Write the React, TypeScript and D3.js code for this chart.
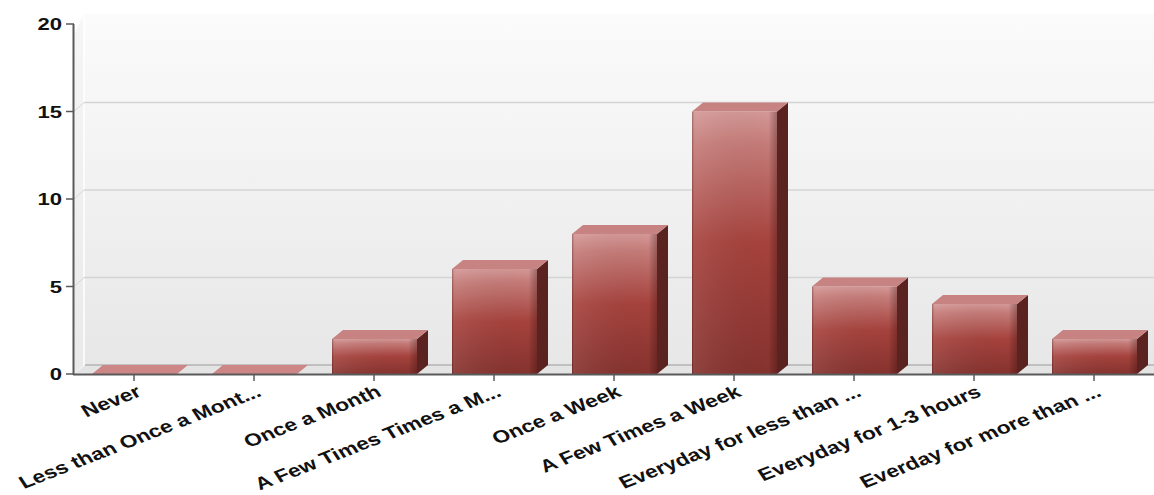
import React from "react";
import * as d3 from "d3";

const categories = [
  "Never",
  "Less than Once a Mont...",
  "Once a Month",
  "A Few Times Times a M...",
  "Once a Week",
  "A Few Times a Week",
  "Everyday for less than  ...",
  "Everyday for 1-3 hours",
  "Everday for more than  ...",
];
const values = [0, 0, 2, 6, 8, 15, 5, 4, 2];
const yTicks = [0, 5, 10, 15, 20];

const W = 1154;
const H = 495;
const left = 74;
const right = 1154;
const yBottom = 374;
const yTop = 24;
const DX = 11;
const DY = -9;
const SX = 1.3;

export default function App() {
  const x = d3.scaleBand<string>().domain(categories).range([left, right]).paddingInner(0).paddingOuter(0);
  const y = d3.scaleLinear().domain([0, 20]).range([yBottom, yTop]);
  const bw = 85;
  const font = "'Liberation Sans', Arial, Helvetica, sans-serif";

  return (
    <svg width={W} height={H} style={{ position: "absolute", left: 0, top: 0, background: "#fff" }}>
      <defs>
        <linearGradient id="wall" x1="0" y1="0" x2="0" y2="1">
          <stop offset="0" stopColor="#fbfbfb" />
          <stop offset="1" stopColor="#e7e7e7" />
        </linearGradient>
        <linearGradient id="side" x1="0" y1="0" x2="0" y2="1">
          <stop offset="0" stopColor="#f6f6f6" />
          <stop offset="1" stopColor="#e9e9e9" />
        </linearGradient>
        <linearGradient id="front" x1="0" y1="0" x2="0" y2="1">
          <stop offset="0" stopColor="#d49896" />
          <stop offset="0.12" stopColor="#c57c79" />
          <stop offset="0.5" stopColor="#a6423d" />
          <stop offset="1" stopColor="#85322e" />
        </linearGradient>
        <linearGradient id="edge" x1="0" y1="0" x2="1" y2="0">
          <stop offset="0" stopColor="#3a0c0a" stopOpacity="0.35" />
          <stop offset="0.04" stopColor="#ffffff" stopOpacity="0.08" />
          <stop offset="0.9" stopColor="#000" stopOpacity="0" />
          <stop offset="1" stopColor="#2a0605" stopOpacity="0.3" />
        </linearGradient>
      </defs>

      {/* back wall */}
      <rect x={left + DX - 1} y={14} width={right - left - DX + 1} height={yBottom + DY - 14} fill="url(#wall)" />
      {/* left side wall */}
      <path
        d={`M${left},${yTop + 10} L${left + DX - 1},14 L${left + DX - 1},${yBottom + DY} L${left},${yBottom} Z`}
        fill="url(#side)"
      />
      <line x1={left + DX - 1} x2={left + DX - 1} y1={14} y2={yBottom + DY} stroke="#ffffff" strokeWidth={1.5} />
      {/* floor */}
      <path
        d={`M${left},${yBottom} L${left + DX},${yBottom + DY} L${right},${yBottom + DY} L${right},${yBottom} Z`}
        fill="#e4e4e4"
      />

      {/* gridlines */}
      {yTicks.filter((t) => t > 0 && t < 20).map((t) => (
        <g key={t}>
          <line x1={left} y1={y(t)} x2={left + DX - 1} y2={y(t) + DY} stroke="#d6d6d6" strokeWidth={1} />
          <line x1={left + DX - 1} y1={y(t) + DY} x2={right} y2={y(t) + DY} stroke="#d4d4d4" strokeWidth={1.5} />
        </g>
      ))}
      <line x1={left + DX} y1={yBottom + DY} x2={right} y2={yBottom + DY} stroke="#9a9a9a" strokeWidth={1} />

      {/* bars */}
      {categories.map((c, i) => {
        const cx = (x(c) as number) + x.bandwidth() / 2;
        const x0 = cx - 42;
        const x1 = x0 + bw;
        const yt = y(values[i]);
        const h = yBottom - yt;
        return (
          <g key={c}>
            {h > 0 && (
              <>
                <path
                  d={`M${x1},${yBottom} L${x1 + DX},${yBottom + DY} L${x1 + DX},${yt + DY} L${x1},${yt} Z`}
                  fill="#5b2320"
                />
                <rect x={x0} y={yt} width={bw} height={h} fill="url(#front)" />
                <rect x={x0} y={yt} width={bw} height={h} fill="url(#edge)" />
              </>
            )}
            <path
              d={`M${x0},${yt} L${x0 + DX},${yt + DY} L${x1 + DX},${yt + DY} L${x1},${yt} Z`}
              fill={h > 0 ? "#c68381" : "#cc8685"}
            />
          </g>
        );
      })}

      {/* axes */}
      <line x1={left - 0.5} y1={yTop} x2={left - 0.5} y2={yBottom + 1} stroke="#5a5a5a" strokeWidth={2} />
      <line x1={left - 1} y1={yBottom + 0.5} x2={right} y2={yBottom + 0.5} stroke="#5a5a5a" strokeWidth={2} />
      {yTicks.map((t) => (
        <g key={t}>
          <line x1={left - 8} x2={left} y1={y(t)} y2={y(t)} stroke="#5a5a5a" strokeWidth={1.5} />
          <text
            transform={`translate(62,${y(t)}) scale(${SX},1)`}
            textAnchor="end"
            dy="0.36em"
            fontFamily={font}
            fontWeight="bold"
            fontSize={17}
            fill="#111"
          >
            {t}
          </text>
        </g>
      ))}
      {categories.map((c) => {
        const cx = (x(c) as number) + x.bandwidth() / 2;
        return (
          <g key={c}>
            <line x1={cx} x2={cx} y1={yBottom + 1} y2={yBottom + 7} stroke="#5a5a5a" strokeWidth={1.5} />
            <text
              transform={`translate(${cx + 5},${yBottom + 16}) scale(${SX},1) rotate(-27)`}
              textAnchor="end"
              dy="0.35em"
              fontFamily={font}
              fontWeight="bold"
              fontSize={17.5}
              fill="#111"
            >
              {c}
            </text>
          </g>
        );
      })}
    </svg>
  );
}
